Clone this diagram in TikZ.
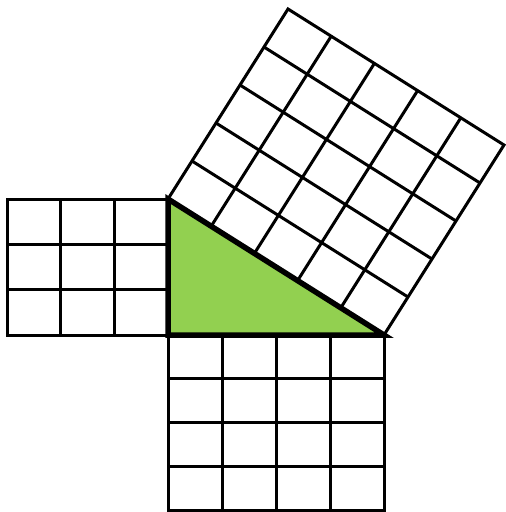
\documentclass[tikz,border=0pt]{standalone}
\usetikzlibrary{calc}
\definecolor{leafgreen}{RGB}{146,208,80}
\begin{document}
\begin{tikzpicture}[x=1pt,y=-1pt,
  gridline/.style={line width=3pt, line join=miter},
  legline/.style={line width=5.5pt, line join=miter}]
\useasboundingbox (0,0) rectangle (506,512);
\coordinate (O) at (168,335);
\coordinate (T) at (168,199);
\coordinate (R) at (384,335);
\coordinate (C) at (504,145);
\coordinate (D) at (288,9);
% left square 3x3
\foreach \i in {1,...,2}{
  \draw[gridline] ({7+\i*53.67},199) -- ({7+\i*53.67},335);
  \draw[gridline] (7,{199+\i*45.33}) -- (168,{199+\i*45.33});
}
\draw[gridline] (7,199) rectangle (168,335);
% bottom square 4x4
\foreach \i in {1,...,3}{
  \draw[gridline] ({168+\i*54},335) -- ({168+\i*54},510);
  \draw[gridline] (168,{335+\i*43.75}) -- (384,{335+\i*43.75});
}
\draw[gridline] (168,335) rectangle (384,510);
% hypotenuse square 5x5
\foreach \i in {1,...,4}{
  \draw[gridline] ($(T)!\i/5!(R)$) -- ($(D)!\i/5!(C)$);
  \draw[gridline] ($(T)!\i/5!(D)$) -- ($(R)!\i/5!(C)$);
}
\draw[gridline] (T) -- (R) -- (C) -- (D) -- cycle;
% triangle
\fill[leafgreen] (O) -- (T) -- (R) -- cycle;
\draw[legline] (O) -- (T) -- (R) -- cycle;
\end{tikzpicture}
\end{document}
